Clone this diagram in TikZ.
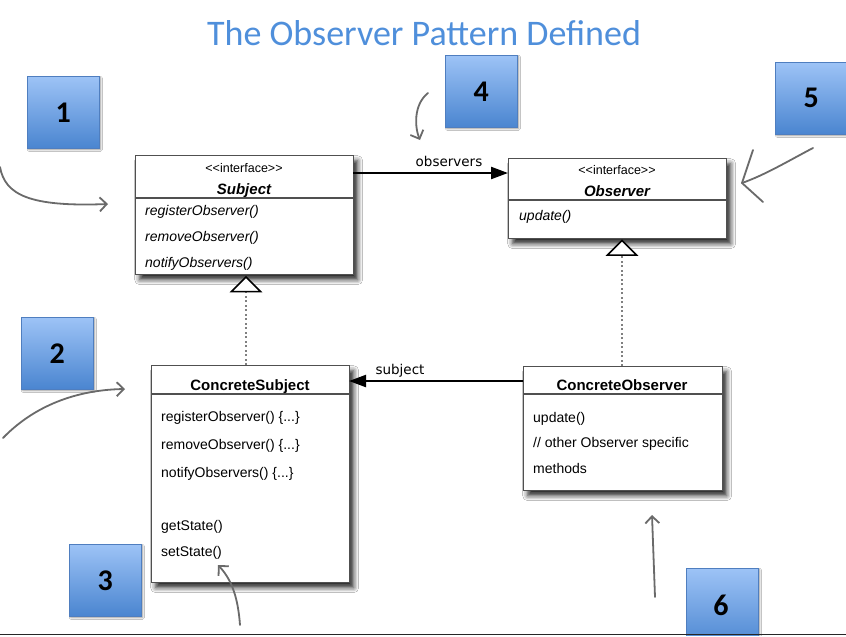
\documentclass[tikz,border=0pt]{standalone}
\usepackage{fontspec}
\setmainfont{Liberation Sans}
\newfontfamily\calfont{Carlito}
\newfontfamily\djfont{DejaVu Sans}
\usetikzlibrary{arrows.meta,shadows.blur}
\definecolor{titleblue}{HTML}{4F8FDB}
\definecolor{numtop}{HTML}{9DC3F6}
\definecolor{numbot}{HTML}{4A85D0}
\definecolor{numborder}{HTML}{4F7EBF}
\definecolor{handgray}{HTML}{6A6A6A}
\definecolor{boxgray}{HTML}{505050}
\tikzset{
  umlbox/.style={draw=boxgray, line width=1.3pt, fill=white, anchor=north west, inner sep=0pt,
    blur shadow={shadow xshift=4pt, shadow yshift=-5pt, shadow blur radius=5pt, shadow opacity=85}},
  numbox/.style={draw=numborder, line width=0.6pt, top color=numtop, bottom color=numbot,
    minimum width=72pt, minimum height=72pt, anchor=north west, inner sep=0pt,
    font=\calfont\fontsize{30}{30}\selectfont\bfseries,
    blur shadow={shadow xshift=1.5pt, shadow yshift=-1.5pt, shadow blur radius=1.5pt, shadow opacity=40}},
  meth/.style={anchor=base west, inner sep=0pt, font=\fontsize{14}{14}\selectfont},
  imeth/.style={meth, font=\fontsize{14}{14}\selectfont\itshape},
  stereo/.style={anchor=base, inner sep=0pt, font=\fontsize{12.5}{12.5}\selectfont},
  cname/.style={anchor=base, inner sep=0pt, font=\fontsize{15}{15}\selectfont\bfseries},
  iname/.style={anchor=base, inner sep=0pt, font=\fontsize{15}{15}\selectfont\bfseries\itshape},
  assoc/.style={line width=2.2pt, -{Triangle[length=17pt,width=12pt]}},
  realize/.style={draw=gray, line width=1.6pt, dash pattern=on 2pt off 2.5pt},
  hollow/.style={draw=black, line width=1.5pt, fill=white},
  linklabel/.style={inner sep=0pt, font=\djfont\fontsize{13.5}{13.5}\selectfont},
  hand/.style={draw=handgray, line width=1.8pt, line cap=round, line join=round},
  handtip/.style={hand, -{Straight Barb[length=7pt,width=14pt,line width=1.8pt]}},
  divider/.style={draw=boxgray, line width=1.1pt}
}
\begin{document}
\begin{tikzpicture}[x=1pt,y=-1pt]
\useasboundingbox[fill=white] (0,0) rectangle (846,637);

% title
\node[inner sep=0pt, text=titleblue, font=\calfont\fontsize{36}{36}\selectfont] (title) at (424,33) {The Observer Pattern Defined};

% UML boxes
\node[umlbox, minimum width=218pt, minimum height=119pt] (subj) at (135,155) {};
\node[umlbox, minimum width=218pt, minimum height=80pt] (obs) at (508,158) {};
\node[umlbox, minimum width=198pt, minimum height=217pt] (csub) at (151,365) {};
\node[umlbox, minimum width=199pt, minimum height=124pt] (cobs) at (523,366) {};

\draw[divider] (135,198) -- (353,198);
\draw[divider] (508,200) -- (726,200);
\draw[divider] (151,394) -- (349,394);
\draw[divider] (523,394) -- (722,394);

% Subject text
\node[stereo] (subjst) at (244,172) {{<}{<}interface{>}{>}};
\node[iname] (subjnm) at (244,194) {Subject};
\node[imeth] (subjm1) at (145,215) {registerObserver()};
\node[imeth] (subjm2) at (145,241) {removeObserver()};
\node[imeth] (subjm3) at (145,267) {notifyObservers()};

% Observer text
\node[stereo] (obsst) at (617,174) {{<}{<}interface{>}{>}};
\node[iname] (obsnm) at (617,196) {Observer};
\node[imeth] (obsm1) at (519,220) {update()};

% ConcreteSubject text
\node[cname] (csubnm) at (250,390) {ConcreteSubject};
\node[meth] (csm1) at (161,421) {registerObserver() \{...\}};
\node[meth] (csm2) at (161,449) {removeObserver() \{...\}};
\node[meth] (csm3) at (161,477) {notifyObservers() \{...\}};
\node[meth] (csm4) at (161,530) {getState()};
\node[meth] (csm5) at (161,556) {setState()};

% ConcreteObserver text
\node[cname] (cobsnm) at (622,390) {ConcreteObserver};
\node[meth] (com1) at (533,422) {update()};
\node[meth] (com2) at (533,447) {// other Observer specific};
\node[meth] (com3) at (533,473) {methods};

% associations
\coordinate (a1s) at (353,173);
\coordinate (a1e) at (508,173);
\draw[assoc] (a1s) -- (a1e);
\node[linklabel, anchor=base] (lobs) at (449,166) {observers};
\coordinate (a2s) at (523,381);
\coordinate (a2e) at (349,381);
\draw[assoc] (a2s) -- (a2e);
\node[linklabel, anchor=base] (lsub) at (400,374) {subject};

% realizations
\coordinate (r1s) at (246,365);
\coordinate (r1t) at (246,291);
\draw[realize] (r1s) -- (r1t);
\draw[hollow] (246,277) -- (260.5,291.5) -- (231.5,291.5) -- cycle;
\coordinate (r2s) at (622,366);
\coordinate (r2t) at (622,255);
\draw[realize] (r2s) -- (r2t);
\draw[hollow] (622,240.5) -- (636.5,255) -- (607.5,255) -- cycle;

% numbered boxes
\node[numbox] (n1) at (27,76) {1};
\node[numbox] (n2) at (21,317) {2};
\node[numbox] (n3) at (69,544) {3};
\node[numbox] (n4) at (445,55) {4};
\node[numbox] (n5) at (775,62) {5};
\node[numbox, minimum height=80pt] (n6) at (686,568) {};
\node[inner sep=0pt, font=\calfont\fontsize{30}{30}\selectfont\bfseries] (n6t) at (721,605) {6};

% hand drawn arrows
\draw[handtip] (0,167) .. controls (5,195) and (30,207) .. (108,204);
\draw[handtip] (3,438) .. controls (30,410) and (70,390) .. (125,389);
\draw[handtip] (240,625) .. controls (238,598) and (232,580) .. (218,565);
\draw[handtip] (428,93) .. controls (413,105) and (415,128) .. (420,140);
\draw[hand] (813,148) .. controls (790,160) and (765,175) .. (742,183);
\draw[hand] (753,150) -- (742,183) -- (763,202);
\draw[handtip] (655,597) -- (652,515);

% bottom rule
\draw[line width=1.5pt, draw=black!85] (0,634.5) -- (846,634.5);
\fill[white] (0,635.5) rectangle (846,637);
\end{tikzpicture}
\end{document}
